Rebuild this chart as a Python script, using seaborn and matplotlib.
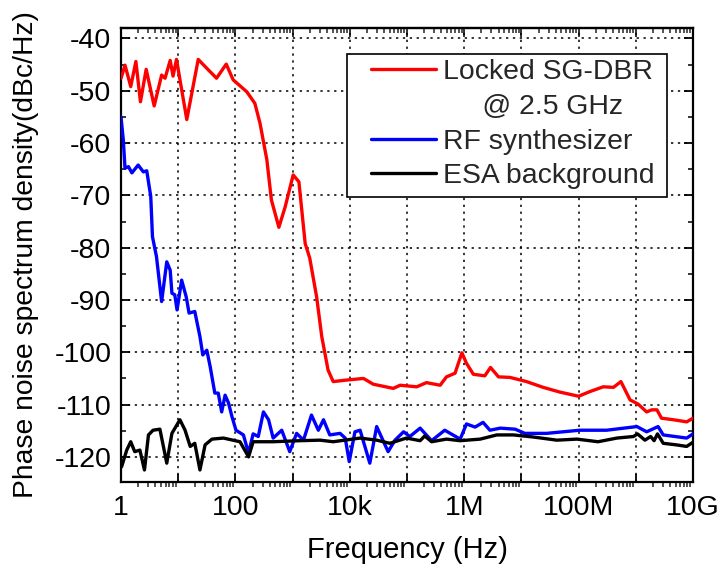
import numpy as np
import pandas as pd
import matplotlib
matplotlib.use("Agg")
import matplotlib.pyplot as plt
import matplotlib.ticker as mticker
from matplotlib.lines import Line2D
from matplotlib.patches import Rectangle
import seaborn as sns

# ========================================================
# Data (log10 of frequency in Hz, dBc/Hz)
# ========================================================
sgdbr_logf = [0.00, 0.07, 0.17, 0.26, 0.34, 0.44, 0.58, 0.71, 0.77, 0.86, 0.91, 0.97,
              1.15, 1.35, 1.50, 1.67, 1.84, 1.96, 2.20, 2.34, 2.43, 2.55, 2.63, 2.76,
              2.87, 3.01, 3.11, 3.22, 3.30, 3.42, 3.51, 3.62, 3.71, 3.95, 4.24, 4.41,
              4.76, 4.88, 5.17, 5.34, 5.58, 5.69, 5.84, 5.96, 6.04, 6.16, 6.36, 6.46,
              6.60, 6.80, 7.09, 7.38, 7.67, 8.00, 8.20, 8.43, 8.61, 8.74, 8.90, 9.04,
              9.19, 9.28, 9.37, 9.45, 9.66, 9.89, 10.0]
sgdbr_pn = [-47.6, -45.1, -49.2, -44.4, -52.1, -45.9, -52.9, -47.0, -47.6, -44.2, -47.2, -44.0,
            -55.5, -44.0, -45.7, -47.6, -44.9, -47.9, -50.2, -52.4, -56.2, -63.2, -70.9, -76.1,
            -72.2, -66.1, -67.4, -79.2, -82.0, -89.4, -97.0, -103.4, -105.6, -105.3, -105.0, -106.1,
            -106.9, -106.3, -106.6, -105.8, -106.3, -104.7, -104.0, -100.1, -102.1, -104.2, -104.5, -102.9,
            -104.7, -104.8, -105.6, -106.7, -107.6, -108.4, -107.5, -106.6, -106.7, -105.6, -109.1, -109.9,
            -111.4, -111.0, -111.0, -112.6, -112.9, -113.3, -112.6]

rf_logf = [0.00, 0.04, 0.07, 0.13, 0.19, 0.30, 0.39, 0.45, 0.52, 0.55, 0.62, 0.71,
           0.80, 0.86, 0.89, 0.94, 0.98, 1.06, 1.14, 1.19, 1.29, 1.38, 1.43, 1.50,
           1.56, 1.64, 1.70, 1.76, 1.82, 1.88, 1.94, 2.01, 2.14, 2.23, 2.31, 2.40,
           2.49, 2.58, 2.66, 2.81, 2.95, 3.07, 3.19, 3.33, 3.45, 3.54, 3.65, 3.83,
           3.92, 3.99, 4.09, 4.18, 4.35, 4.47, 4.67, 4.79, 4.94, 5.05, 5.23, 5.43,
           5.66, 5.93, 6.04, 6.19, 6.33, 6.45, 6.63, 6.89, 7.06, 7.44, 8.02, 8.49,
           9.02, 9.19, 9.39, 9.48, 9.89, 10.0]
rf_pn = [-55.0, -59.4, -64.8, -64.5, -65.7, -64.2, -65.5, -65.3, -70.2, -77.9, -81.7, -90.3,
         -82.7, -84.3, -88.7, -89.0, -91.9, -86.2, -89.4, -92.5, -92.2, -97.0, -100.5, -99.6,
         -102.8, -107.8, -107.8, -111.4, -108.2, -109.7, -112.3, -114.9, -115.8, -119.3, -115.6, -116.1,
         -111.4, -112.9, -116.4, -114.9, -119.0, -115.5, -116.8, -112.0, -114.9, -112.9, -115.8, -115.5,
         -116.4, -120.9, -115.2, -114.9, -121.2, -114.2, -119.0, -116.8, -115.2, -116.1, -114.5, -116.9,
         -114.9, -116.6, -113.7, -114.3, -113.4, -114.9, -114.5, -114.7, -115.5, -115.5, -114.9, -114.9,
         -114.2, -115.2, -114.2, -115.8, -116.4, -115.6]

esa_logf = [0.01, 0.10, 0.17, 0.24, 0.33, 0.41, 0.48, 0.56, 0.68, 0.80, 0.89, 1.03,
            1.12, 1.21, 1.29, 1.38, 1.47, 1.59, 1.79, 2.08, 2.23, 2.31, 2.66, 3.13,
            3.48, 3.71, 4.18, 4.47, 4.70, 4.99, 5.23, 5.31, 5.43, 5.69, 5.93, 6.28,
            6.57, 6.86, 7.21, 7.62, 7.97, 8.34, 8.67, 8.96, 9.03, 9.16, 9.26, 9.32,
            9.38, 9.48, 9.71, 9.89, 10.0]
esa_pn = [-121.9, -118.7, -117.1, -119.0, -118.7, -122.5, -115.8, -114.9, -114.7, -121.2, -115.5, -112.9,
          -114.9, -118.0, -117.4, -122.5, -117.7, -116.6, -116.4, -117.1, -120.0, -117.1, -117.1, -116.9,
          -116.8, -117.1, -116.4, -116.8, -117.4, -116.4, -116.9, -116.0, -117.1, -116.6, -116.9, -116.6,
          -115.8, -115.8, -116.2, -116.8, -116.6, -117.1, -116.4, -116.1, -115.6, -116.8, -116.1, -116.9,
          -115.6, -117.4, -117.7, -118.0, -117.2]

series_names = ["Locked SG-DBR", "RF synthesizer", "ESA background"]
series_colors = ["#ff0000", "#0000ff", "#000000"]

x_tick_exps = [0, 1, 2, 3, 4, 5, 6, 7, 8, 9, 10]
x_tick_labels = ["1", "", "100", "", "10k", "", "1M", "", "100M", "", "10G"]
y_ticks = [-120, -110, -100, -90, -80, -70, -60, -50, -40]

# ========================================================
# Style
# ========================================================
sns.set_theme(style="white")
plt.rcParams["font.family"] = ["Liberation Sans", "DejaVu Sans"]
plt.rcParams["axes.unicode_minus"] = False

fig = plt.figure(figsize=(7.22, 5.66), dpi=100)
ax = fig.add_axes([0.1676, 0.1484, 0.7922, 0.8021])

frames = [
    pd.DataFrame({"f": 10.0 ** np.array(sgdbr_logf), "pn": sgdbr_pn}),
    pd.DataFrame({"f": 10.0 ** np.array(rf_logf), "pn": rf_pn}),
    pd.DataFrame({"f": 10.0 ** np.array(esa_logf), "pn": esa_pn}),
]
for df, col in zip(frames, series_colors):
    sns.lineplot(data=df, x="f", y="pn", ax=ax, color=col, linewidth=2.4,
                 estimator=None, sort=False, zorder=3)

ax.set_xscale("log")
ax.set_xlim(1, 1e10)
ax.set_ylim(-124.8, -38.0)

ax.set_xticks([10.0 ** e for e in x_tick_exps])
ax.set_xticklabels(x_tick_labels)
ax.xaxis.set_minor_locator(mticker.LogLocator(base=10, subs=np.arange(2, 10), numticks=40))
ax.xaxis.set_minor_formatter(mticker.NullFormatter())
ax.set_yticks(y_ticks)
ax.yaxis.set_minor_locator(mticker.MultipleLocator(5))

ax.grid(True, which="major", color="black", linestyle=(0, (1.5, 3.0)), linewidth=1.1)

for side in ["left", "right", "top", "bottom"]:
    ax.spines[side].set_color("black")
    ax.spines[side].set_linewidth(1.6)

ax.tick_params(axis="y", which="major", direction="in", length=6.5, width=1.3,
               left=True, right=True, labelsize=20.5, pad=7, colors="black")
ax.tick_params(axis="y", which="minor", direction="in", length=3.5, width=1.3,
               left=True, right=True)
ax.tick_params(axis="x", which="major", direction="in", length=5.5, width=1.3,
               bottom=True, top=False, labelsize=20.5, pad=9, colors="black")
ax.tick_params(axis="x", which="minor", direction="out", length=3.5, width=1.1,
               bottom=True, top=False)

# top axis ticks point inward
top = ax.secondary_xaxis("top")
top.set_xticks([10.0 ** e for e in x_tick_exps])
top.xaxis.set_minor_locator(mticker.LogLocator(base=10, subs=np.arange(2, 10), numticks=40))
top.xaxis.set_minor_formatter(mticker.NullFormatter())
top.tick_params(which="major", direction="in", length=6.5, width=1.3, labeltop=False)
top.tick_params(which="minor", direction="in", length=3.5, width=1.1, labeltop=False)
top.spines["top"].set_linewidth(1.6)

ax.set_xlabel("Frequency (Hz)", fontsize=21, labelpad=11, color="black")
ax.set_ylabel("Phase noise spectrum density(dBc/Hz)", fontsize=20.3, labelpad=11, color="black")

# Legend box
ax.add_patch(Rectangle((0.395, 0.6276), 0.5595, 0.316, transform=ax.transAxes,
                       facecolor="white", edgecolor="black", linewidth=1.2, zorder=4))
handles = [ax.lines[0], Line2D([], [], color="none"), ax.lines[1], ax.lines[2]]
labels = [series_names[0], "     @ 2.5 GHz", series_names[1], series_names[2]]
leg = ax.legend(handles, labels, loc="upper left", bbox_to_anchor=(0.437, 0.9317),
                frameon=False, fontsize=20.4, handlelength=2.3, handletextpad=0.25,
                labelspacing=0.31, borderpad=0, borderaxespad=0)
leg.set_zorder(5)

fig.savefig("out.png", dpi=100)
